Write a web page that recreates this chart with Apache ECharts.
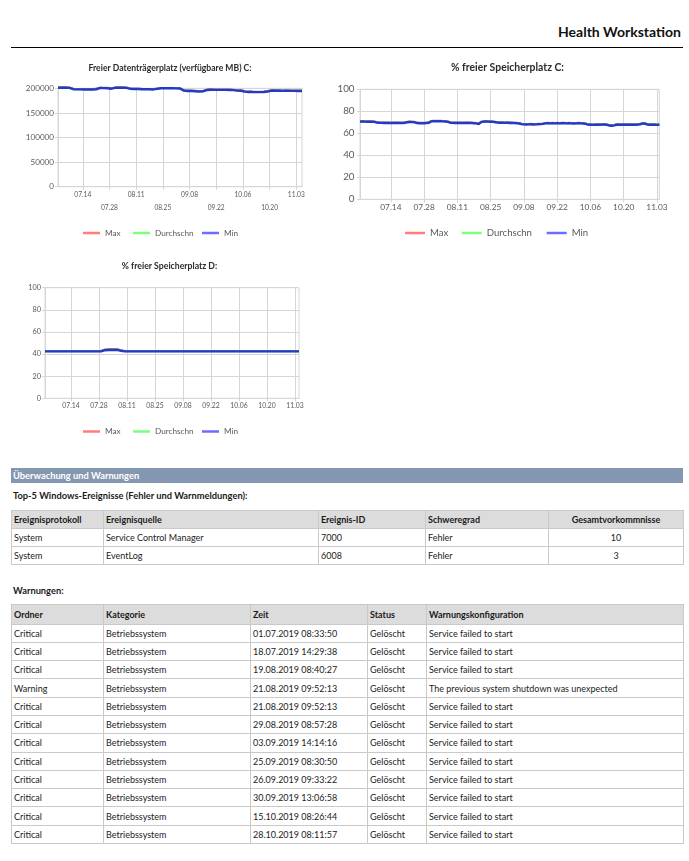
<!DOCTYPE html>
<html><head><meta charset="utf-8">
<script src="https://cdn.jsdelivr.net/npm/echarts@6/dist/echarts.min.js"></script>
<style>
html,body{margin:0;padding:0;background:#fff;}
body{width:689px;height:861px;position:relative;overflow:hidden;font-family:Lato,"Open Sans",sans-serif;color:#1a1a1a;}
.abs{position:absolute;}
#hdr{right:8px;top:24px;line-height:16px;font-size:14px;font-weight:bold;color:#111;}
#rule{left:11px;top:47px;width:672px;height:0;border-top:1.5px solid #000;}
#sec{left:11px;top:468px;width:672px;height:15px;line-height:15px;background:#8497b0;color:#fff;font-weight:bold;font-size:9.3px;padding-left:2px;box-sizing:border-box;}
.lbl{font-weight:bold;font-size:9.3px;left:13px;line-height:12px;}
table{border-collapse:collapse;table-layout:fixed;position:absolute;left:11px;width:672px;font-size:9px;color:#222;}
td,th{border:1px solid #c9c9c9;padding:0 0 0 2px;text-align:left;white-space:nowrap;overflow:hidden;box-sizing:border-box;font-weight:normal;}
th{background:#dcdcdc;font-weight:bold;color:#1a1a1a;}
#t1 td,#t1 th{height:18px;}
#t2 th{height:19.5px;}
#t2 td{height:18.3px;}
.c{text-align:center;padding:0;}
</style></head>
<body>
<div id="hdr" class="abs">Health Workstation</div>
<div id="rule" class="abs"></div>
<div id="c1" class="abs" style="left:0;top:55px;width:320px;height:190px;"></div>
<div id="c2" class="abs" style="left:320px;top:55px;width:369px;height:190px;"></div>
<div id="c3" class="abs" style="left:0;top:255px;width:320px;height:190px;"></div>
<div id="sec" class="abs">Überwachung und Warnungen</div>
<div class="abs lbl" style="top:490px;">Top-5 Windows-Ereignisse (Fehler und Warnmeldungen):</div>
<table id="t1" style="top:510px;"></table>
<div class="abs lbl" style="top:585px;">Warnungen:</div>
<table id="t2" style="top:604px;"></table>
<script>
const tickLabels = ['07.14','07.28','08.11','08.25','09.08','09.22','10.06','10.20','11.03'];
const seriesNames = ['Max','Durchschn','Min'];

const c1Title = 'Freier Datenträgerplatz (verfügbare MB) C:';
const c1Min = [201200,201300,201200,201100,201200,201000,200900,200800,
 198200,198000,197900,197800,197800,197900,197700,197800,197900,197800,197700,197800,198100,
 200300,200500,200600,200400,200500,200200,
 199300,199200,199400,
 201000,201200,201300,201100,201200,201000,200900,200600,
 198800,198600,198500,198400,198500,198300,198200,198100,198000,197900,198000,197800,197700,197800,198900,
 199800,200000,200100,200000,199900,200000,200100,200000,199900,199800,199900,199500,
 197000,195300,
 194600,194500,194300,194400,194200,194000,193600,193400,
 193300,193800,195200,196400,196800,
 197000,197100,196900,197000,196800,196900,196700,196600,196700,196500,196600,196400,196300,
 195500,195300,195200,195100,194700,
 193200,192800,192600,192500,192400,192500,192300,192200,192300,192400,192500,192700,193500,
 195200,195400,195300,195100,
 195000,195100,194900,194800,195000,194900,194800,194700,194900,194800,194700,194600,194700,194500];
const c1Max = [202000,202100,202000,201900,202000,201800,201700,201600,
 199000,198800,198700,198600,198600,198700,198500,198600,198700,198600,198500,198600,198900,
 201100,201300,201400,201200,201300,201000,
 200100,200000,200200,
 201800,202000,202100,201900,202000,201800,201700,201400,
 199600,199400,199300,199200,199300,199100,199000,198900,198800,198700,198800,198600,198500,198600,199700,
 200600,200800,200900,200800,200700,200800,200900,200800,200700,200600,200700,200300,
 198200,196400,
 195500,195400,195200,195300,195100,194900,194500,194300,
 194200,194700,196100,197300,197700,
 197900,198000,197800,197900,197700,197800,197600,197500,197600,197400,197500,197300,197200,
 196400,196200,196100,196000,195600,
 194100,193700,193500,193400,193300,193400,193200,193100,193200,193300,193400,193600,194400,
 196100,196300,196200,196000,
 195900,196000,195800,195700,195900,195800,195700,195600,195800,195700,195600,195500,195600,195400];
const c1Avg = [201600,201700,201600,201500,201600,201400,201300,201200,
 198600,198400,198300,198200,198200,198300,198100,198200,198300,198200,198100,198200,198500,
 200700,200900,201000,200800,200900,200600,
 199700,199600,199800,
 201400,201600,201700,201500,201600,201400,201300,201000,
 199200,199000,198900,198800,198900,198700,198600,198500,198400,198300,198400,198200,198100,198200,199300,
 200200,200400,200500,200400,200300,200400,200500,200400,200300,200200,200300,199900,
 197600,195800,
 195000,194900,194700,194800,194600,194400,194000,193800,
 193700,194200,195600,196800,197200,
 197400,197500,197300,197400,197200,197300,197100,197000,197100,196900,197000,196800,196700,
 195900,195700,195600,195500,195100,
 193600,193200,193000,192900,192800,192900,192700,192600,192700,192800,192900,193100,193900,
 195600,195800,195700,195500,
 195400,195500,195300,195200,195400,195300,195200,195100,195300,195200,195100,195000,195100,194900];

const c2Title = '% freier Speicherplatz C:';
const c2Min = [70.6,70.7,70.6,70.5,70.6,70.5,70.4,
 69.8,69.6,69.5,69.4,69.5,69.4,69.3,69.4,69.5,69.4,69.3,69.4,69.6,
 70.1,70.3,70.2,70.0,
 69.3,69.2,69.1,69.2,69.3,69.6,
 70.8,70.9,71.0,70.9,70.9,70.8,70.7,70.4,
 69.6,69.5,69.4,69.5,69.4,69.3,69.4,69.5,69.4,69.3,69.2,69.0,
 68.4,
 70.2,70.6,70.7,70.6,70.5,70.4,70.1,
 69.7,69.6,69.7,69.5,69.6,69.4,69.5,69.3,69.2,68.9,
 68.3,68.1,68.0,68.1,68.2,68.0,68.1,68.2,68.3,68.6,
 69.0,69.1,69.0,69.1,69.0,69.1,69.0,69.2,69.1,69.0,69.1,69.0,68.9,69.0,69.1,69.0,68.9,68.6,
 67.9,67.8,67.7,67.8,67.9,67.8,67.9,68.0,67.7,
 67.1,66.9,67.2,
 67.8,67.9,67.8,67.9,67.8,67.9,67.8,67.9,67.8,67.9,68.2,
 69.0,68.7,
 67.9,67.8,67.9,67.8,67.7,67.8];
const c2Max = [71.0,71.1,71.0,70.9,71.0,70.9,70.8,
 70.2,70.0,69.9,69.8,69.9,69.8,69.7,69.8,69.9,69.8,69.7,69.8,70.0,
 70.5,70.7,70.6,70.4,
 69.7,69.6,69.5,69.6,69.7,70.0,
 71.2,71.3,71.4,71.3,71.3,71.2,71.1,70.8,
 70.0,69.9,69.8,69.9,69.8,69.7,69.8,69.9,69.8,69.7,69.6,69.4,
 68.8,
 70.6,71.0,71.1,71.0,70.9,70.8,70.5,
 70.1,70.0,70.1,69.9,70.0,69.8,69.9,69.7,69.6,69.3,
 68.7,68.5,68.4,68.5,68.6,68.4,68.5,68.6,68.7,69.0,
 69.4,69.5,69.4,69.5,69.4,69.5,69.4,69.6,69.5,69.4,69.5,69.4,69.3,69.4,69.5,69.4,69.3,69.0,
 68.3,68.2,68.1,68.2,68.3,68.2,68.3,68.4,68.1,
 67.5,67.3,67.6,
 68.2,68.3,68.2,68.3,68.2,68.3,68.2,68.3,68.2,68.3,68.6,
 69.4,69.1,
 68.3,68.2,68.3,68.2,68.1,68.2];
const c2Avg = [70.8,70.9,70.8,70.7,70.8,70.7,70.6,
 70.0,69.8,69.7,69.6,69.7,69.6,69.5,69.6,69.7,69.6,69.5,69.6,69.8,
 70.3,70.5,70.4,70.2,
 69.5,69.4,69.3,69.4,69.5,69.8,
 71.0,71.1,71.2,71.1,71.1,71.0,70.9,70.6,
 69.8,69.7,69.6,69.7,69.6,69.5,69.6,69.7,69.6,69.5,69.4,69.2,
 68.6,
 70.4,70.8,70.9,70.8,70.7,70.6,70.3,
 69.9,69.8,69.9,69.7,69.8,69.6,69.7,69.5,69.4,69.1,
 68.5,68.3,68.2,68.3,68.4,68.2,68.3,68.4,68.5,68.8,
 69.2,69.3,69.2,69.3,69.2,69.3,69.2,69.4,69.3,69.2,69.3,69.2,69.1,69.2,69.3,69.2,69.1,68.8,
 68.1,68.0,67.9,68.0,68.1,68.0,68.1,68.2,67.9,
 67.3,67.1,67.4,
 68.0,68.1,68.0,68.1,68.0,68.1,68.0,68.1,68.0,68.1,68.4,
 69.2,68.9,
 68.1,68.0,68.1,68.0,67.9,68.0];

const c3Title = '% freier Speicherplatz D:';
const c3Min = [42.4,42.4,42.4,42.4,42.4,42.4,42.4,42.4,42.4,42.4,42.4,42.4,42.4,42.4,42.4,42.4,42.4,42.4,42.4,42.4,42.4,42.4,42.4,42.4,42.4,42.4,42.4,42.4,42.4,
 42.7,43.5,43.7,43.7,43.8,43.7,43.7,43.8,43.6,43.0,42.5,
 42.4,42.4,42.4,42.4,42.4,42.4,42.4,42.4,42.4,42.4,42.4,42.4,42.4,42.4,42.4,42.4,42.4,42.4,42.4,42.4,42.4,42.4,
 42.4,42.4,42.4,42.4,42.4,42.4,42.4,42.4,42.4,42.4,42.4,42.4,42.4,42.4,42.4,42.4,42.4,42.4,42.4,42.4,42.4,42.4,
 42.4,42.4,42.4,42.4,42.4,42.4,42.4,42.4,42.4,42.4,42.4,42.4,42.4,42.4,42.4,42.4,42.4,42.4,42.4,42.4,42.4,42.4,
 42.4,42.4,42.4,42.4,42.4,42.4,42.4,42.4,42.4,42.4,42.4,42.4,42.4,42.4,42.4,42.4,42.4,42.4,42.4,42.4,42.4,42.4];
const c3Max = [42.8,42.8,42.8,42.8,42.8,42.8,42.8,42.8,42.8,42.8,42.8,42.8,42.8,42.8,42.8,42.8,42.8,42.8,42.8,42.8,42.8,42.8,42.8,42.8,42.8,42.8,42.8,42.8,42.8,
 43.2,44.2,44.5,44.5,44.6,44.5,44.5,44.6,44.3,43.5,42.9,
 42.8,42.8,42.8,42.8,42.8,42.8,42.8,42.8,42.8,42.8,42.8,42.8,42.8,42.8,42.8,42.8,42.8,42.8,42.8,42.8,42.8,42.8,
 42.8,42.8,42.8,42.8,42.8,42.8,42.8,42.8,42.8,42.8,42.8,42.8,42.8,42.8,42.8,42.8,42.8,42.8,42.8,42.8,42.8,42.8,
 42.8,42.8,42.8,42.8,42.8,42.8,42.8,42.8,42.8,42.8,42.8,42.8,42.8,42.8,42.8,42.8,42.8,42.8,42.8,42.8,42.8,42.8,
 42.8,42.8,42.8,42.8,42.8,42.8,42.8,42.8,42.8,42.8,42.8,42.8,42.8,42.8,42.8,42.8,42.8,42.8,42.8,42.8,42.8,42.8];
const c3Avg = [42.6,42.6,42.6,42.6,42.6,42.6,42.6,42.6,42.6,42.6,42.6,42.6,42.6,42.6,42.6,42.6,42.6,42.6,42.6,42.6,42.6,42.6,42.6,42.6,42.6,42.6,42.6,42.6,42.6,
 42.9,43.8,44.1,44.1,44.2,44.1,44.1,44.2,44.0,43.3,42.7,
 42.6,42.6,42.6,42.6,42.6,42.6,42.6,42.6,42.6,42.6,42.6,42.6,42.6,42.6,42.6,42.6,42.6,42.6,42.6,42.6,42.6,42.6,
 42.6,42.6,42.6,42.6,42.6,42.6,42.6,42.6,42.6,42.6,42.6,42.6,42.6,42.6,42.6,42.6,42.6,42.6,42.6,42.6,42.6,42.6,
 42.6,42.6,42.6,42.6,42.6,42.6,42.6,42.6,42.6,42.6,42.6,42.6,42.6,42.6,42.6,42.6,42.6,42.6,42.6,42.6,42.6,42.6,
 42.6,42.6,42.6,42.6,42.6,42.6,42.6,42.6,42.6,42.6,42.6,42.6,42.6,42.6,42.6,42.6,42.6,42.6,42.6,42.6,42.6,42.6];

const eventsHeader = ['Ereignisprotokoll','Ereignisquelle','Ereignis-ID','Schweregrad','Gesamtvorkommnisse'];
const eventsRows = [
 ['System','Service Control Manager','7000','Fehler','10'],
 ['System','EventLog','6008','Fehler','3']];
const warnHeader = ['Ordner','Kategorie','Zeit','Status','Warnungskonfiguration'];
const warnRows = [
 ['Critical','Betriebssystem','01.07.2019 08:33:50','Gelöscht','Service failed to start'],
 ['Critical','Betriebssystem','18.07.2019 14:29:38','Gelöscht','Service failed to start'],
 ['Critical','Betriebssystem','19.08.2019 08:40:27','Gelöscht','Service failed to start'],
 ['Warning','Betriebssystem','21.08.2019 09:52:13','Gelöscht','The previous system shutdown was unexpected'],
 ['Critical','Betriebssystem','21.08.2019 09:52:13','Gelöscht','Service failed to start'],
 ['Critical','Betriebssystem','29.08.2019 08:57:28','Gelöscht','Service failed to start'],
 ['Critical','Betriebssystem','03.09.2019 14:14:16','Gelöscht','Service failed to start'],
 ['Critical','Betriebssystem','25.09.2019 08:30:50','Gelöscht','Service failed to start'],
 ['Critical','Betriebssystem','26.09.2019 09:33:22','Gelöscht','Service failed to start'],
 ['Critical','Betriebssystem','30.09.2019 13:06:58','Gelöscht','Service failed to start'],
 ['Critical','Betriebssystem','15.10.2019 08:26:44','Gelöscht','Service failed to start'],
 ['Critical','Betriebssystem','28.10.2019 08:11:57','Gelöscht','Service failed to start']];

// date categories (Jul 1, 2019 onward)
const days = [];
for (let i = 0; i < 129; i++) {
  const d = new Date(Date.UTC(2019, 6, 1 + i));
  days.push(String(d.getUTCMonth() + 1).padStart(2, '0') + '.' + String(d.getUTCDate()).padStart(2, '0'));
}

const FONT = 'Lato';
const GRIDC = '#d6d6d6';
const LBLC = '#595959';

function buildChart(id, o) {
  const chart = echarts.init(document.getElementById(id));
  const cats = days.slice(0, o.min.length);
  const tickSet = new Set(tickLabels);
  const showIdx = (i) => tickSet.has(cats[i]);
  const leg = (name, color, left) => ({
    data: [{ name: name, itemStyle: { color: color } }],
    left: left, top: o.legTop, padding: 0, icon: 'rect', itemWidth: o.legW, itemHeight: 2.5, itemGap: 0,
    selectedMode: false,
    textStyle: { fontFamily: FONT, fontSize: o.legFont, color: LBLC }
  });
  const ser = (name, data, color, w) => ({
    name: name, type: 'line', data: data, symbol: 'none', clip: false,
    lineStyle: { color: color, width: w }, itemStyle: { color: color }
  });
  chart.setOption({
    animation: false,
    title: { text: o.title, left: o.titleX, top: o.titleTop, textAlign: 'center',
      textStyle: { fontFamily: FONT, fontWeight: 'bold', fontSize: o.titleFont, color: '#2b2b2b' } },
    legend: [leg('Max', '#ff7d7d', o.legX[0]), leg('Durchschn', '#7dff7d', o.legX[1]), leg('Min', '#6c6cff', o.legX[2])],
    grid: { left: o.grid[0], top: o.grid[1], width: o.grid[2], height: o.grid[3], show: true, borderColor: GRIDC, borderWidth: 1 },
    xAxis: {
      type: 'category', data: cats, boundaryGap: false,
      axisLine: { lineStyle: { color: GRIDC } },
      axisTick: { show: true, interval: showIdx, length: 3, lineStyle: { color: GRIDC } },
      axisLabel: { interval: showIdx, margin: o.xMargin, fontFamily: FONT, fontSize: o.xFont, color: LBLC, lineHeight: o.xLH,
        formatter: (v) => (o.twoRows && tickLabels.indexOf(v) % 2 === 1) ? '\n' + v : v },
      splitLine: { show: true, interval: showIdx, lineStyle: { color: GRIDC, width: 1 } }
    },
    yAxis: {
      type: 'value', min: 0, max: o.yMax, interval: o.yInt,
      axisLine: { show: true, lineStyle: { color: GRIDC } },
      axisTick: { show: true, length: 3, lineStyle: { color: GRIDC } },
      axisLabel: { margin: o.yMargin, fontFamily: FONT, fontSize: o.yFont, color: LBLC, formatter: (v) => String(v) },
      splitLine: { lineStyle: { color: GRIDC, width: 1 } }
    },
    series: [ser(seriesNames[0], o.max, '#f25a5a', 2), ser(seriesNames[1], o.avg, '#5ad85a', 2), ser(seriesNames[2], o.min, '#2438cc', 2.4)]
  });
}

buildChart('c1', { title: c1Title, min: c1Min, max: c1Max, avg: c1Avg,
  grid: [58, 33.3, 244, 98.4], titleX: 165, titleTop: 4, titleFont: 8.6,
  legTop: 174, legX: [83, 133, 202], legW: 17, legFont: 8.2,
  xMargin: 2, xFont: 6.6, xLH: 12.7, twoRows: true,
  yMax: 200000, yInt: 50000, yFont: 8.1, yMargin: 4 });
buildChart('c2', { title: c2Title, min: c2Min, max: c2Max, avg: c2Avg,
  grid: [40, 34.3, 299.3, 110], titleX: 182.5, titleTop: 3, titleFont: 10.4,
  legTop: 173, legX: [85, 141.7, 226.7], legW: 20, legFont: 9.6,
  xMargin: 3.4, xFont: 8.3, xLH: 10, twoRows: false,
  yMax: 100, yInt: 20, yFont: 9.8, yMargin: 5.5 });
buildChart('c3', { title: c3Title, min: c3Min, max: c3Max, avg: c3Avg,
  grid: [45, 32.7, 254, 110.6], titleX: 164.5, titleTop: 1.5, titleFont: 8.7,
  legTop: 172.5, legX: [83, 133, 202], legW: 17, legFont: 8.2,
  xMargin: 3.7, xFont: 6.8, xLH: 8, twoRows: false,
  yMax: 100, yInt: 20, yFont: 7.3, yMargin: 4 });

function fillTable(id, widths, header, rows, centerCols) {
  const t = document.getElementById(id);
  let h = '<colgroup>' + widths.map(w => '<col style="width:' + w + 'px">').join('') + '</colgroup>';
  h += '<tr>' + header.map((c, i) => '<th class="' + (centerCols.includes(i) ? 'c' : '') + '">' + c + '</th>').join('') + '</tr>';
  rows.forEach(r => {
    h += '<tr>' + r.map((c, i) => '<td class="' + (centerCols.includes(i) ? 'c' : '') + '">' + c + '</td>').join('') + '</tr>';
  });
  t.innerHTML = h;
}
fillTable('t1', [92, 215, 107, 123, 135], eventsHeader, eventsRows, [4]);
fillTable('t2', [92, 147, 117, 59, 257], warnHeader, warnRows, []);
</script>
</body></html>
